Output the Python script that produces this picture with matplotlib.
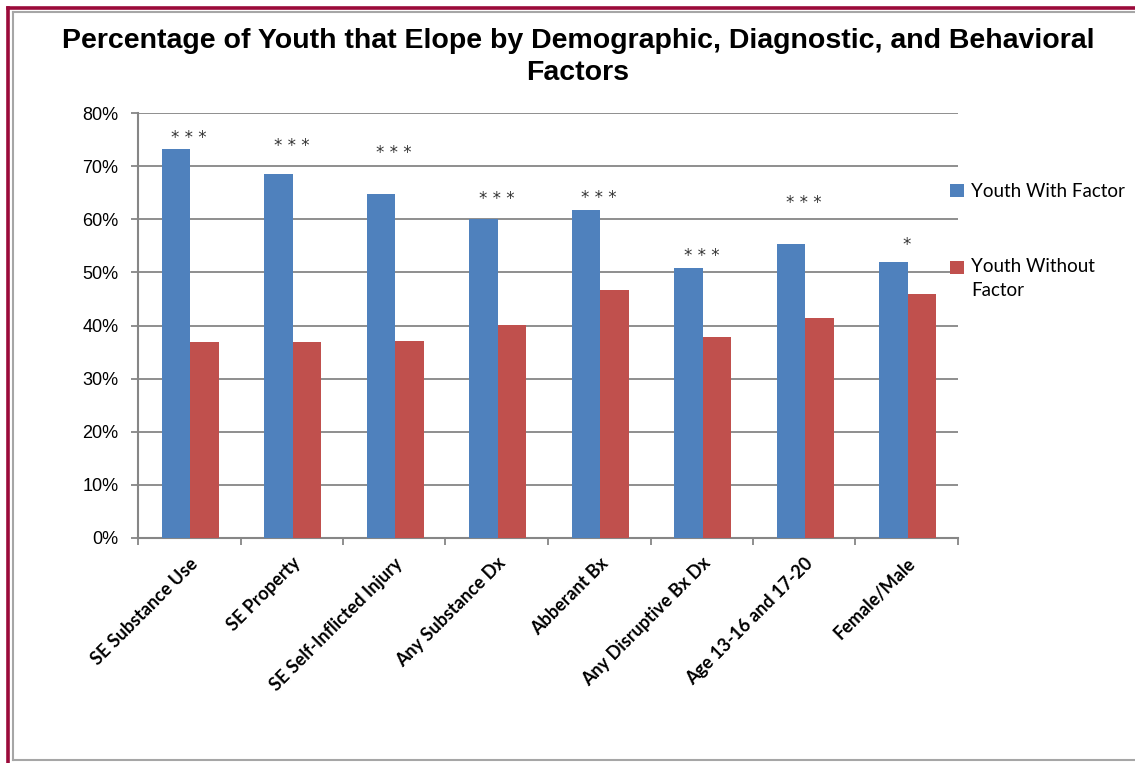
import matplotlib
matplotlib.use("Agg")
import matplotlib.pyplot as plt
from matplotlib.lines import Line2D
from matplotlib.patches import Rectangle
from matplotlib.legend_handler import HandlerPatch
import numpy as np

categories = ["SE Substance Use", "SE Property", "SE Self-Inflicted Injury",
              "Any Substance Dx", "Abberant Bx", "Any Disruptive Bx Dx",
              "Age 13-16 and 17-20", "Female/Male"]
with_factor = [73.3, 68.6, 64.8, 60.0, 61.8, 50.8, 55.4, 52.0]
without_factor = [36.9, 36.9, 37.1, 40.1, 46.7, 37.8, 41.5, 46.0]
stars = ["* * *", "* * *", "* * *", "* * *", "* * *", "* * *", "* * *", "*"]
star_y = [76.3, 74.8, 73.5, 64.8, 64.9, 54.0, 64.1, 56.2]  # centre of the star glyphs
yticks = [0, 10, 20, 30, 40, 50, 60, 70, 80]

blue = "#4F81BD"
red = "#C0504D"
grid = "#868686"

W, H = 1135, 763
fig = plt.figure(figsize=(W / 100, H / 100), dpi=100)

# frame of the pasted chart
fig.add_artist(Line2D([7.5 / W, 7.5 / W], [0, 1 - 7.5 / H], color="#9B0A3A", lw=2.6,
                      transform=fig.transFigure))
fig.add_artist(Line2D([7.5 / W, 1], [1 - 7.5 / H, 1 - 7.5 / H], color="#9B0A3A", lw=2.6,
                      transform=fig.transFigure))
fig.add_artist(Line2D([12.5 / W, 12.5 / W], [3 / H, 1 - 12 / H], color="#A6A6A6", lw=1.5,
                      transform=fig.transFigure))
fig.add_artist(Line2D([12.5 / W, 1], [1 - 12 / H, 1 - 12 / H], color="#A6A6A6", lw=1.5,
                      transform=fig.transFigure))
fig.add_artist(Line2D([12.5 / W, 1], [3 / H, 3 / H], color="#A6A6A6", lw=1.5,
                      transform=fig.transFigure))

ax = fig.add_axes([138 / W, (H - 538) / H, (958 - 138) / W, (538 - 113) / H])

x = np.arange(len(categories))
w = 0.278
b1 = ax.bar(x - w / 2 + 0.012, with_factor, w, color=blue, zorder=3)
b2 = ax.bar(x + w / 2 + 0.012, without_factor, w, color=red, zorder=3)

for i in range(len(categories)):
    ax.text(x[i], star_y[i] - 1.9, stars[i], ha="center", va="baseline",
            fontsize=12, family="DejaVu Sans", color="#333333")

ax.set_xlim(-0.5, len(categories) - 0.5)
ax.set_ylim(0, 80)
ax.set_yticks(yticks)
ax.set_yticklabels([f"{v}%" for v in yticks], fontsize=13, family="Liberation Sans")
ax.yaxis.grid(True, color=grid, lw=1.3, zorder=0)
ax.tick_params(axis="y", length=5, width=1.3, color=grid, pad=9)

ax.set_xticks(x)
ax.set_xticklabels(categories, rotation=45, ha="right", rotation_mode="anchor",
                   fontsize=13, fontweight="bold", family="Lato")
ax.set_xticks(np.arange(len(categories) + 1) - 0.5, minor=True)
ax.tick_params(axis="x", which="major", length=0, pad=12)
ax.tick_params(axis="x", which="minor", length=5, width=1.3, color=grid)

for s in ["top", "right"]:
    ax.spines[s].set_visible(False)
for s in ["left", "bottom"]:
    ax.spines[s].set_color(grid)
    ax.spines[s].set_linewidth(1.5)

fig.text(578 / W, 1 - 28 / H,
         "Percentage of Youth that Elope by Demographic, Diagnostic, and Behavioral\nFactors",
         ha="center", va="top", fontsize=20.5, fontweight="bold", family="Liberation Sans",
         linespacing=1.3)


def raised_square(legend, orig_handle, xdescent, ydescent, width, height, fontsize):
    # put the square level with the first line of a two-line label
    return Rectangle((-xdescent, -ydescent + 8.5), width, height)


h1, h2 = b1.patches[0], b2.patches[0]
leg = fig.legend([h1, h2], ["Youth With Factor", "Youth Without\nFactor"],
                 loc="upper left", bbox_to_anchor=(941 / W, 1 - 174 / H),
                 frameon=False, prop={"family": "Lato", "size": 13.5}, handlelength=0.7,
                 handleheight=0.7, handletextpad=0.4, labelspacing=3.1, borderpad=0,
                 handler_map={h2: HandlerPatch(patch_func=raised_square)})
leg.get_texts()[1].set_linespacing(1.45)

fig.savefig("out.png", dpi=100)
